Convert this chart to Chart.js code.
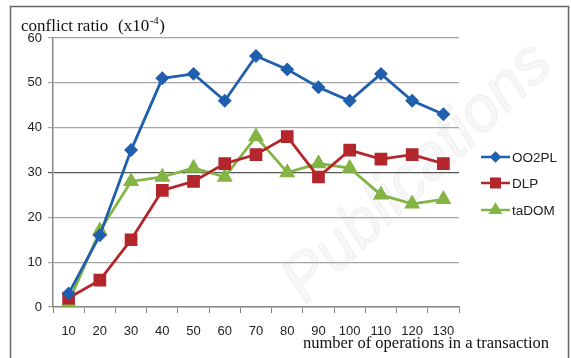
<!DOCTYPE html>
<html>
<head>
<meta charset="utf-8">
<script src="https://cdn.jsdelivr.net/npm/chart.js@4/dist/chart.umd.min.js"></script>
<style>
  html, body { margin: 0; padding: 0; background: #fff; }
  #wrap { width: 571px; height: 358px; }
</style>
</head>
<body>
<div id="wrap"><canvas id="conflict"></canvas></div>
<script>
// operations per transaction
const ops = ['10', '20', '30', '40', '50', '60', '70', '80', '90', '100', '110', '120', '130'];
// conflict ratio, units of 1e-4
const oo2pl = [3, 16, 35, 51, 52, 46, 56, 53, 49, 46, 52, 46, 43];
const dlp = [2, 6, 15, 26, 28, 32, 34, 38, 29, 35, 33, 34, 32];
const tadom = [1, 17, 28, 29, 31, 29, 38, 30, 32, 31, 25, 23, 24];
const yTicks = [0, 10, 20, 30, 40, 50, 60];

const BLUE = '#1f5fae';
const RED = '#b3262b';
const GREEN = '#84b443';

// faint publisher watermark behind the plot
const watermark = {
  id: 'watermark',
  beforeDraw(chart) {
    const ctx = chart.ctx;
    ctx.save();
    ctx.translate(305, 305);
    ctx.rotate(-0.76);
    ctx.font = 'italic 64px "Liberation Sans"';
    ctx.fillStyle = 'rgba(0,0,0,0.03)';
    ctx.strokeStyle = 'rgba(0,0,0,0.045)';
    ctx.lineWidth = 1.5;
    ctx.fillText('Publications', 0, 0);
    ctx.strokeText('Publications', 0, 0);
    ctx.restore();
  }
};

// frame, axis titles and the legend box on the right
const decorations = {
  id: 'decorations',
  afterDraw(chart) {
    const ctx = chart.ctx;
    ctx.save();
    ctx.strokeStyle = '#666';
    ctx.lineWidth = 1.5;
    ctx.beginPath();
    ctx.moveTo(10.5, 358);
    ctx.lineTo(10.5, 6.5);
    ctx.lineTo(568.5, 6.5);
    ctx.lineTo(568.5, 358);
    ctx.stroke();

    ctx.fillStyle = '#111';
    ctx.textBaseline = 'alphabetic';
    ctx.font = '17px "Liberation Serif"';
    ctx.fillText('conflict ratio', 21, 31);
    let x = 118;
    ctx.fillText('(x10', x, 31);
    x += ctx.measureText('(x10').width;
    ctx.font = '11px "Liberation Serif"';
    ctx.fillText('-4', x + 0.5, 24);
    x += ctx.measureText('-4').width + 1;
    ctx.font = '17px "Liberation Serif"';
    ctx.fillText(')', x, 31);

    ctx.textAlign = 'right';
    ctx.font = '16.5px "Liberation Serif"';
    ctx.fillText('number of operations in a transaction', 549, 348);

    // legend entries: line with marker, then name
    const items = [
      { ds: 0, y: 157 },
      { ds: 1, y: 183 },
      { ds: 2, y: 210 }
    ];
    ctx.textAlign = 'left';
    ctx.textBaseline = 'middle';
    ctx.font = '13.5px "Liberation Sans"';
    items.forEach(it => {
      const ds = chart.data.datasets[it.ds];
      ctx.strokeStyle = ds.borderColor;
      ctx.lineWidth = 2.5;
      ctx.beginPath();
      ctx.moveTo(481, it.y);
      ctx.lineTo(510, it.y);
      ctx.stroke();
      Chart.helpers.drawPoint(ctx, {
        pointStyle: ds.pointStyle,
        radius: ds.pointRadius - 1,
        rotation: 0,
        borderWidth: 1
      }, 495.5, it.y);
      ctx.fillStyle = ds.pointBackgroundColor;
      ctx.fill();
      ctx.fillStyle = '#222';
      ctx.fillText(ds.label, 512, it.y + 1);
    });
    ctx.restore();
  }
};

new Chart(document.getElementById('conflict'), {
  type: 'line',
  data: {
    labels: ops,
    datasets: [
      {
        label: 'OO2PL',
        data: oo2pl,
        borderColor: BLUE,
        backgroundColor: BLUE,
        pointBackgroundColor: BLUE,
        pointBorderColor: BLUE,
        pointStyle: 'rectRot',
        pointRadius: 5,
        borderWidth: 2.8
      },
      {
        label: 'DLP',
        data: dlp,
        borderColor: RED,
        backgroundColor: RED,
        pointBackgroundColor: RED,
        pointBorderColor: RED,
        pointStyle: 'rect',
        pointRadius: 7,
        borderWidth: 2.8
      },
      {
        label: 'taDOM',
        data: tadom,
        borderColor: GREEN,
        backgroundColor: GREEN,
        pointBackgroundColor: GREEN,
        pointBorderColor: GREEN,
        pointStyle: 'triangle',
        pointRadius: 6.5,
        borderWidth: 2.8
      }
    ]
  },
  options: {
    responsive: true,
    maintainAspectRatio: false,
    animation: false,
    events: [],
    layout: { padding: { top: 38, right: 112, left: 0, bottom: 0 } },
    elements: { line: { tension: 0 }, point: { borderWidth: 1 } },
    plugins: {
      legend: { display: false },
      title: { display: false },
      tooltip: { enabled: false }
    },
    scales: {
      x: {
        offset: true,
        afterFit(scale) { scale.height = 51; },
        grid: {
          offset: true,
          drawOnChartArea: false,
          drawTicks: true,
          tickLength: 6,
          color: '#888'
        },
        border: { color: '#888', width: 1.5 },
        ticks: {
          color: '#222',
          font: { family: 'Liberation Sans', size: 13 },
          padding: 11,
          maxRotation: 0,
          autoSkip: false
        }
      },
      y: {
        min: 0,
        max: 60,
        afterFit(scale) { scale.width = 53; },
        afterBuildTicks(scale) { scale.ticks = yTicks.map(v => ({ value: v })); },
        grid: {
          color: ctx => (ctx.tick && ctx.tick.value === 30 ? '#555' : '#a6a6a6'),
          lineWidth: 1.2,
          tickLength: 5
        },
        border: { color: '#888', width: 1.5 },
        ticks: {
          color: '#222',
          font: { family: 'Liberation Sans', size: 13 },
          padding: 6
        }
      }
    }
  },
  plugins: [watermark, decorations]
});
</script>
</body>
</html>
